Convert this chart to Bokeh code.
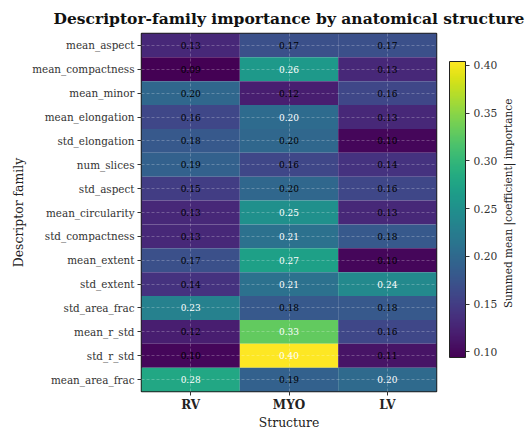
import math
from bokeh.plotting import figure
from bokeh.models import (ColumnDataSource, LinearColorMapper, ColorBar, FixedTicker,
                          PrintfTickFormatter, CategoricalAxis, FactorRange)
from bokeh.palettes import Viridis256
from bokeh.embed import file_html
from bokeh.resources import INLINE
from bokeh.core.properties import value

structures = ["RV", "MYO", "LV"]
descriptors = ["mean_aspect", "mean_compactness", "mean_minor", "mean_elongation",
               "std_elongation", "num_slices", "std_aspect", "mean_circularity",
               "std_compactness", "mean_extent", "std_extent", "std_area_frac",
               "mean_r_std", "std_r_std", "mean_area_frac"]
rv_vals = [0.13, 0.094, 0.197, 0.16, 0.18, 0.19, 0.15, 0.13, 0.13, 0.17, 0.14, 0.23, 0.12, 0.10, 0.28]
myo_vals = [0.17, 0.26, 0.12, 0.202, 0.198, 0.16, 0.198, 0.25, 0.21, 0.27, 0.21, 0.18, 0.33, 0.404, 0.19]
lv_vals = [0.17, 0.13, 0.16, 0.13, 0.10, 0.14, 0.16, 0.13, 0.18, 0.10, 0.24, 0.18, 0.16, 0.11, 0.201]
cbar_ticks = [0.10, 0.15, 0.20, 0.25, 0.30, 0.35, 0.40]
cbar_title = "Summed mean |coefficient| importance"

xs, ys, vs, labels, tcolors = [], [], [], [], []
for s, vals in zip(structures, [rv_vals, myo_vals, lv_vals]):
    for d, v in zip(descriptors, vals):
        xs.append(s); ys.append(d); vs.append(v)
        labels.append(f"{v:.2f}")
        tcolors.append("white" if v > 0.2 else "black")
src = ColumnDataSource(dict(x=xs, y=ys, v=vs, label=labels, tc=tcolors))

allv = rv_vals + myo_vals + lv_vals
mapper = LinearColorMapper(palette=Viridis256, low=min(allv), high=max(allv))

FONT = "DejaVu Serif"
p = figure(width=525, height=432, x_range=structures, y_range=list(reversed(descriptors)),
           output_backend="svg", toolbar_location=None,
           title="Descriptor-family importance by anatomical structure",
           min_border_left=141, min_border_right=89, min_border_top=31, min_border_bottom=40)
p.title.text_font = FONT
p.title.text_font_size = "15.5px"
p.title.text_font_style = "bold"
p.title.align = "center"
p.title.text_color = "#111111"
p.title.standoff = 12

p.rect(x="x", y="y", width=1, height=1, source=src,
       fill_color={"field": "v", "transform": mapper}, line_color=None)
p.text(x="x", y="y", text="label", source=src, text_color="tc",
       text_align="center", text_baseline="middle", text_font=value(FONT),
       text_font_size="9px", level="overlay")

for g in (p.xgrid, p.ygrid):
    g.grid_line_color = "white"
    g.grid_line_alpha = 0.3
    g.grid_line_dash = "3 2"
    g.grid_line_width = 0.8
    g.level = "annotation"

p.outline_line_color = "#222222"
p.outline_line_width = 1.5

for ax in (p.xaxis, p.yaxis):
    ax.axis_line_color = None
    ax.major_tick_line_color = "#333333"
    ax.major_tick_out = 4
    ax.major_tick_in = 0
    ax.minor_tick_line_color = None
    ax.major_label_text_font = FONT
    ax.axis_label_text_font = FONT
    ax.axis_label_text_font_style = "normal"
    ax.axis_label_text_color = "#222222"
    ax.axis_label_text_font_size = "12.4px"

p.xaxis.axis_label = "Structure"
p.xaxis.major_label_text_font_size = "12px"
p.xaxis.major_label_text_font_style = "bold"
p.xaxis.major_label_text_color = "#222222"
p.xaxis.major_label_standoff = 2
p.xaxis.axis_label_standoff = 0
p.yaxis.axis_label = "Descriptor family"
p.yaxis.major_label_text_font_size = "10.4px"
p.yaxis.major_label_text_color = "#333333"
p.yaxis.major_label_standoff = 3
p.yaxis.axis_label_standoff = 3

cb = ColorBar(color_mapper=mapper, ticker=FixedTicker(ticks=cbar_ticks),
              formatter=PrintfTickFormatter(format="%.2f"),
              width=16, height=296, location=(13, 34), padding=0, margin=0,
              major_label_text_font=FONT, major_label_text_font_size="10.7px",
              major_label_text_color="#333333",
              major_tick_line_color="#333333", major_tick_out=4, major_tick_in=0,
              bar_line_color="#222222", bar_line_width=1,
              label_standoff=4, background_fill_color=None,
              minor_tick_line_color=None)
p.add_layout(cb, "right")

# colour-bar title, drawn as the label of an extra right-hand axis; the label
# starts at its factor's centre and runs upward, so that centre sits low
p.extra_y_ranges = {"cbt": FactorRange(factors=[cbar_title, " "], factor_padding=0.146)}
title_axis = CategoricalAxis(y_range_name="cbt",
                             major_label_orientation=math.pi / 2,
                             major_label_text_font=FONT, major_label_text_font_size="10.5px",
                             major_label_text_color="#222222", major_label_standoff=2,
                             axis_line_color=None, major_tick_line_color=None,
                             minor_tick_line_color=None)
p.add_layout(title_axis, "right")

open("out.html", "w").write(file_html(p, INLINE))
